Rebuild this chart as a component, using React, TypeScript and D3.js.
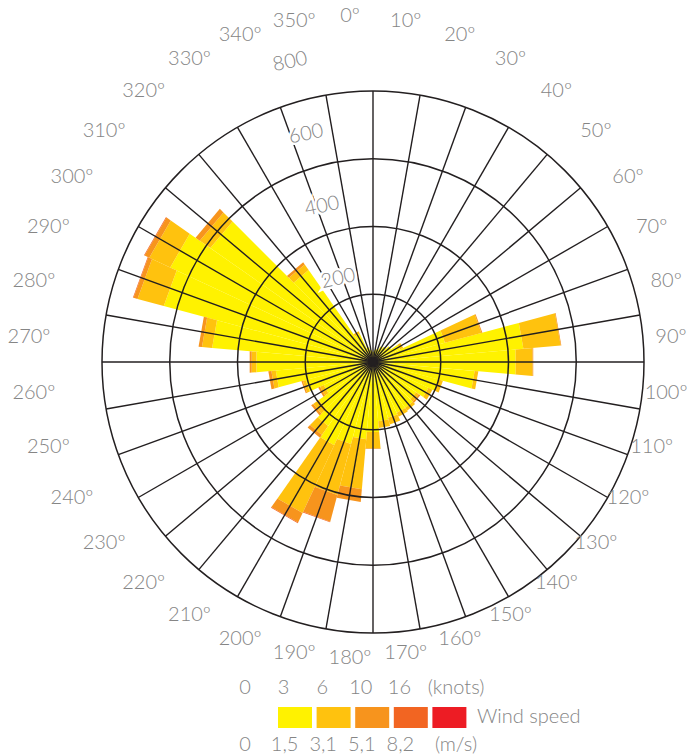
import * as d3 from 'd3';

// wind directions (degrees, clockwise from north)
const directions = [
  0, 10, 20, 30, 40, 50, 60, 70, 80, 90, 100, 110, 120, 130, 140, 150, 160, 170,
  180, 190, 200, 210, 220, 230, 240, 250, 260, 270, 280, 290, 300, 310, 320, 330, 340, 350,
];

// frequency per speed class, one value per direction
const speed0to3 = [
  30, 35, 40, 50, 55, 65, 88, 219, 444, 421, 300, 200, 180, 155, 165, 165, 170, 175,
  207, 228, 250, 270, 230, 195, 160, 205, 287, 344, 475, 637, 658, 584, 330, 92, 45, 35,
];
const speed3to6 = [
  0, 0, 0, 0, 0, 0, 10, 111, 110, 50, 11, 13, 13, 10, 10, 13, 20, 20,
  48, 148, 155, 220, 32, 20, 12, 9, 13, 14, 30, 80, 68, 38, 20, 8, 0, 0,
];
const speed6to10 = [
  0, 0, 0, 0, 0, 0, 0, 3, 2, 2, 0, 0, 0, 5, 0, 0, 0, 0,
  2, 37, 81, 31, 10, 7, 6, 4, 9, 6, 10, 12, 15, 15, 8, 0, 0, 0,
];
const speed10to16 = [
  0, 0, 0, 0, 0, 0, 0, 0, 0, 0, 0, 0, 0, 0, 0, 0, 0, 0,
  0, 0, 2, 2, 0, 0, 0, 0, 0, 0, 0, 2, 2, 0, 0, 0, 0, 0,
];
const speedOver16 = [
  0, 0, 0, 0, 0, 0, 0, 0, 0, 0, 0, 0, 0, 0, 0, 0, 0, 0,
  0, 0, 0, 0, 0, 0, 0, 0, 0, 0, 0, 0, 0, 0, 0, 0, 0, 0,
];

const speedKeys = ['s0', 's1', 's2', 's3', 's4'];
const speedColors = ['#FFF200', '#FFC20E', '#F7941D', '#F26522', '#ED1C24'];
const ringTicks = [200, 400, 600, 800];
const knotLabels = ['0', '3', '6', '10', '16'];
const msLabels = ['0', '1,5', '3,1', '5,1', '8,2'];

const W = 687;
const H = 755;
const cx = 373;
const cy = 362;
const R = 271;
const GREY = '#858585';
const FONT = "Lato, 'Open Sans', 'DejaVu Sans', sans-serif";

const rad = (deg: number) => (deg * Math.PI) / 180;
const pt = (deg: number, r: number): [number, number] => [
  cx + r * Math.sin(rad(deg)),
  cy - r * Math.cos(rad(deg)),
];

export default function App() {
  const rScale = d3.scaleLinear().domain([0, 800]).range([0, R]);

  const rows = directions.map((dir, i) => ({
    dir,
    s0: speed0to3[i],
    s1: speed3to6[i],
    s2: speed6to10[i],
    s3: speed10to16[i],
    s4: speedOver16[i],
  }));
  const stacked = d3.stack<any>().keys(speedKeys)(rows);

  const half = 5;
  const k = 1 / Math.cos(rad(half));
  const line = d3.line();
  const wedge = (dir: number, v0: number, v1: number) => {
    const r0 = rScale(v0) * k;
    const r1 = rScale(v1) * k;
    return (
      line([pt(dir - half, r0), pt(dir - half, r1), pt(dir + half, r1), pt(dir + half, r0)]) + 'Z'
    );
  };

  const legendX = d3.scaleLinear().domain([0, 1]).range([245, 283.6]);

  return (
    <svg
      width={W}
      height={H}
      style={{ position: 'absolute', left: 0, top: 0, background: '#fff' }}
      fontFamily={FONT}
    >
      {/* stacked wedges */}
      <g>
        {stacked.map((layer, li) => (
          <g key={layer.key} fill={speedColors[li]}>
            {layer.map((seg, i) =>
              seg[1] - seg[0] > 0 ? (
                <path key={i} d={wedge(directions[i], seg[0], seg[1])} />
              ) : null
            )}
          </g>
        ))}
      </g>

      {/* rings */}
      <g fill="none" stroke="#231F20" strokeWidth={1.5}>
        {ringTicks.map((t) => (
          <circle key={t} cx={cx} cy={cy} r={rScale(t)} />
        ))}
      </g>

      {/* spokes */}
      <g stroke="#231F20" strokeWidth={1.4}>
        {directions.map((d) => {
          const [x, y] = pt(d, R);
          return <line key={d} x1={cx} y1={cy} x2={x} y2={y} />;
        })}
      </g>
      <circle cx={cx} cy={cy} r={4} fill="#231F20" />

      {/* radial value labels */}
      <g fill={GREY} fontSize={20} fontWeight={300} textAnchor="middle">
        {ringTicks.map((t) => {
          const r = rScale(t);
          const x = cx - 19 - 0.2366 * r;
          const y = cy - 12 - 1.067 * r;
          return (
            <text
              key={t}
              x={x}
              y={y}
              dy="0.35em"
              transform={`rotate(-12,${x},${y})`}
              stroke="#fff"
              strokeWidth={5}
              paintOrder="stroke"
            >
              {t}
            </text>
          );
        })}
      </g>

      {/* direction labels */}
      <g fill={GREY} fontSize={20} fontWeight={300} textAnchor="middle">
        {directions.map((d) => {
          const x = cx - 23 + 321 * Math.sin(rad(d));
          const y = cy - 26 - 321 * Math.cos(rad(d));
          return (
            <text key={d} x={x} y={y} dy="0.35em">
              {`${d}º`}
            </text>
          );
        })}
      </g>

      {/* legend */}
      <g fill={GREY} fontSize={20} fontWeight={300}>
        {knotLabels.map((l, i) => (
          <text key={l} x={legendX(i)} y={694} textAnchor="middle">
            {l}
          </text>
        ))}
        <text x={456} y={694} textAnchor="middle">(knots)</text>
        {speedColors.map((c, i) => (
          <rect key={c} x={legendX(i) + 33} y={707} width={34} height={21} fill={c} />
        ))}
        <text x={477} y={723}>Wind speed</text>
        {msLabels.map((l, i) => (
          <text key={l} x={legendX(i) + (i > 0 ? 1 : 0)} y={751} textAnchor="middle">
            {l}
          </text>
        ))}
        <text x={456} y={751} textAnchor="middle">(m/s)</text>
      </g>
    </svg>
  );
}
